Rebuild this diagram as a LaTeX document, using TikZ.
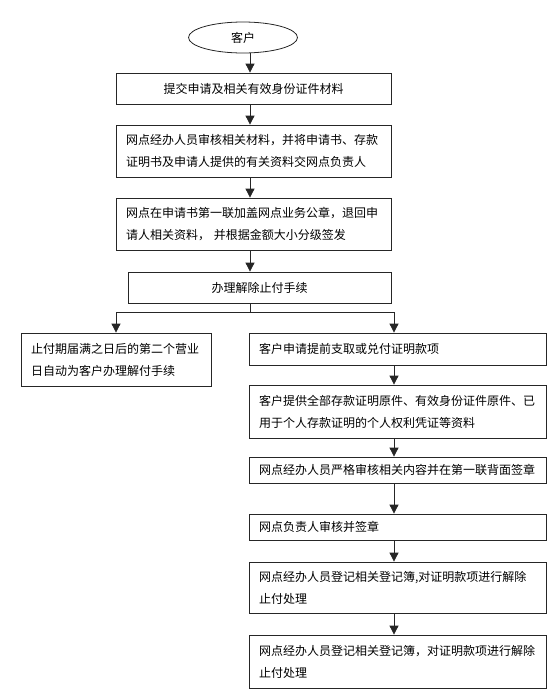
\documentclass[tikz,border=0pt]{standalone}
\usepackage{fontspec}
\newfontfamily\cjk{Noto Sans CJK SC}
\usetikzlibrary{arrows.meta, shapes.geometric}

\tikzset{
  box/.style={draw=black!85, line width=0.8pt, inner xsep=10pt, inner ysep=0pt,
    align=left, font=\cjk\fontsize{12}{22}\selectfont},
  start/.style={ellipse, draw=black!85, line width=0.8pt, minimum width=109pt,
    minimum height=31pt, inner sep=0pt, font=\cjk\fontsize{12}{14}\selectfont},
  arr/.style={draw=black!85, line width=0.8pt, -{Triangle[width=9pt,length=9pt]}},
  line/.style={draw=black!85, line width=0.8pt}
}

\begin{document}
\begin{tikzpicture}[x=1pt, y=-1pt]
      \useasboundingbox (0,0) rectangle (552,691);

      % 1. 起点与主线上的各个步骤
      \node[start] (client) at (243,37.5) {客户};
      \node[box, align=center, text width=255pt, minimum height=31pt] (submit) at (253.5,88.5)
        {提交申请及相关有效身份证件材料};
      \node[box, text width=255pt, minimum height=52pt] (review) at (253.5,151)
        {网点经办人员审核相关材料，并将申请书、存款\\证明书及申请人提供的有关资料交网点负责人};
      \node[box, text width=255pt, minimum height=52pt] (seal) at (253.5,224)
        {网点在申请书第一联加盖网点业务公章，退回申\\请人相关资料， 并根据金额大小分级签发};
      \node[box, align=center, text width=243pt, minimum height=31pt] (release) at (259.5,287.5)
        {办理解除止付手续};

      % 2. 左边分支：到期自动解付
      \node[box, text width=170pt, minimum height=53pt] (auto) at (116,359.5)
        {止付期届满之日后的第二个营业\\日自动为客户办理解付手续};

      % 3. 右边分支：提前支取或兑付
      \node[box, text width=277pt, minimum height=32pt] (apply) at (397.5,349)
        {客户申请提前支取或兑付证明款项};
      \node[box, text width=277pt, minimum height=53pt] (provide) at (397.5,411.5)
        {客户提供全部存款证明原件、有效身份证件原件、已\\用于个人存款证明的个人权利凭证等资料};
      \node[box, text width=277pt, minimum height=26pt] (verify) at (397.5,470)
        {网点经办人员严格审核相关内容并在第一联背面签章};
      \node[box, text width=277pt, minimum height=26pt] (sign) at (397.5,527)
        {网点负责人审核并签章};
      \node[box, text width=277pt, minimum height=51pt] (reg1) at (397.5,587.5)
        {网点经办人员登记相关登记簿,对证明款项进行解除\\止付处理};
      \node[box, text width=277pt, minimum height=53pt] (reg2) at (397.5,661.5)
        {网点经办人员登记相关登记簿，对证明款项进行解除\\止付处理};

      % 4. 连接箭头
      \coordinate (axis) at (250,0);
      \coordinate (raxis) at (394,0);
      \coordinate (split) at (250,312.5);
      \foreach \a/\b in {client/submit, submit/review, review/seal, seal/release}
        \draw[arr] (axis |- \a.south) -- (axis |- \b.north);
      \draw[line] (axis |- release.south) -- (split);
      \draw[arr] (split) -| (auto.north);
      \draw[arr] (split) -| (raxis |- apply.north);
      \foreach \a/\b in {apply/provide, provide/verify, verify/sign, sign/reg1, reg1/reg2}
        \draw[arr] (raxis |- \a.south) -- (raxis |- \b.north);
\end{tikzpicture}
\end{document}
